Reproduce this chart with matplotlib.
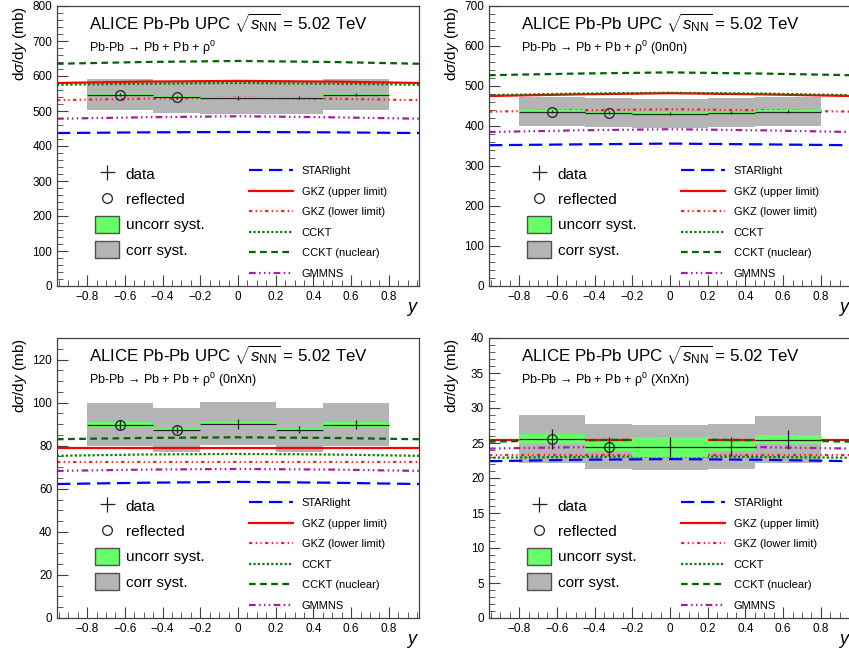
import numpy as np
import matplotlib.pyplot as plt
from matplotlib.lines import Line2D
from matplotlib.patches import Patch
from matplotlib.ticker import MultipleLocator

plt.rcParams['font.family'] = ['Liberation Sans', 'DejaVu Sans']
plt.rcParams['mathtext.fontset'] = 'custom'
plt.rcParams['mathtext.rm'] = 'Liberation Sans'
plt.rcParams['mathtext.it'] = 'Liberation Sans:italic'

# rapidity bins
bin_lo = [-0.8, -0.45, -0.2, 0.2, 0.45]
bin_hi = [-0.45, -0.2, 0.2, 0.45, 0.8]
y_pts = [-0.625, -0.325, 0.0, 0.325, 0.625]
reflected = [True, True, False, False, False]

# model curves sampled in y
y_model = [-0.96, -0.5, 0.0, 0.5, 0.96]

# --- coherent rho0, all classes
tot_val = [547, 539, 537, 538, 547]
tot_stat = [5, 5, 5, 5, 5]
tot_unc = [3, 3, 3, 3, 3]
tot_corr = [44, 46, 46, 46, 44]
tot_starlight = [437, 439, 440, 439, 437]
tot_gkz_up = [580, 584, 586, 584, 580]
tot_gkz_lo = [531, 535, 538, 535, 531]
tot_cckt = [575, 578, 580, 578, 575]
tot_cckt_nuc = [635, 640, 643, 640, 635]
tot_gmmns = [478, 482, 485, 482, 478]

# --- 0n0n
n00_val = [436, 433, 431, 433, 436]
n00_stat = [4, 4, 4, 4, 4]
n00_unc = [3, 3, 3, 3, 3]
n00_corr = [36, 36, 36, 36, 36]
n00_starlight = [352, 354, 356, 354, 352]
n00_gkz_up = [475, 479, 482, 479, 475]
n00_gkz_lo = [436, 439, 442, 439, 436]
n00_cckt = [477, 481, 483, 481, 477]
n00_cckt_nuc = [527, 531, 534, 531, 527]
n00_gmmns = [385, 389, 392, 389, 385]

# --- 0nXn
n0x_val = [89.8, 87.5, 90.1, 87.5, 89.8]
n0x_stat = [2.0, 1.8, 2.3, 1.8, 2.0]
n0x_unc = [1.0, 0.9, 1.1, 0.9, 1.0]
n0x_corr = [10.0, 10.2, 10.0, 10.2, 10.0]
n0x_starlight = [62.2, 62.8, 63.2, 62.8, 62.2]
n0x_gkz_up = [79.0, 79.0, 79.0, 79.0, 79.0]
n0x_gkz_lo = [72.5, 72.5, 72.5, 72.5, 72.5]
n0x_cckt = [75.3, 75.9, 76.2, 75.9, 75.3]
n0x_cckt_nuc = [83.0, 83.6, 83.9, 83.6, 83.0]
n0x_gmmns = [68.3, 68.9, 69.2, 68.9, 68.3]

# --- XnXn
nxx_val = [25.6, 24.5, 24.4, 24.5, 25.5]
nxx_stat = [1.4, 1.3, 1.4, 1.3, 1.4]
nxx_unc = [0.7, 0.7, 1.45, 0.7, 0.7]
nxx_corr = [3.4, 3.2, 3.2, 3.2, 3.4]
nxx_starlight = [22.4, 22.6, 22.7, 22.6, 22.4]
nxx_gkz_up = [25.4, 25.4, 25.4, 25.4, 25.4]
nxx_gkz_lo = [23.3, 23.3, 23.3, 23.3, 23.3]
nxx_cckt = [22.9, 23.0, 23.1, 23.0, 22.9]
nxx_cckt_nuc = [25.2, 25.4, 25.5, 25.4, 25.2]
nxx_gmmns = [24.2, 24.4, 24.5, 24.4, 24.2]

panels = [
    dict(sub='', ymax=800, major=100, minor=20,
         val=tot_val, stat=tot_stat, unc=tot_unc, corr=tot_corr,
         models=[tot_starlight, tot_gkz_up, tot_gkz_lo, tot_cckt, tot_cckt_nuc, tot_gmmns]),
    dict(sub=' (0n0n)', ymax=700, major=100, minor=20,
         val=n00_val, stat=n00_stat, unc=n00_unc, corr=n00_corr,
         models=[n00_starlight, n00_gkz_up, n00_gkz_lo, n00_cckt, n00_cckt_nuc, n00_gmmns]),
    dict(sub=' (0nXn)', ymax=130, major=20, minor=5,
         val=n0x_val, stat=n0x_stat, unc=n0x_unc, corr=n0x_corr,
         models=[n0x_starlight, n0x_gkz_up, n0x_gkz_lo, n0x_cckt, n0x_cckt_nuc, n0x_gmmns]),
    dict(sub=' (XnXn)', ymax=40, major=5, minor=1,
         val=nxx_val, stat=nxx_stat, unc=nxx_unc, corr=nxx_corr,
         models=[nxx_starlight, nxx_gkz_up, nxx_gkz_lo, nxx_cckt, nxx_cckt_nuc, nxx_gmmns]),
]

model_names = ['STARlight', 'GKZ (upper limit)', 'GKZ (lower limit)', 'CCKT',
               'CCKT (nuclear)', 'GMMNS']
model_styles = [
    dict(color='#0000ff', ls=(0, (6, 3))),
    dict(color='#ff0000', ls='-'),
    dict(color='#ff2020', ls=(0, (1.5, 1.5, 0.6, 1.5, 0.6, 1.5))),
    dict(color='#007f00', ls=(0, (1, 1))),
    dict(color='#006400', ls=(0, (3, 2))),
    dict(color='#a020a0', ls=(0, (3, 1.5, 0.7, 1.5, 0.7, 1.5, 0.7, 1.5))),
]

green = '#66ff66'
grey = '#b4b4b4'

fig = plt.figure(figsize=(8.49, 6.53), dpi=100)
W, H = 849, 653
ax_px = [(57, 6), (489, 6), (57, 338), (489, 338)]

for p, (x0, y0) in zip(panels, ax_px):
    ax = fig.add_axes([x0 / W, 1 - (y0 + 280) / H, 362 / W, 280 / H])
    ax.set_xlim(-0.96, 0.96)
    ax.set_ylim(0, p['ymax'])

    for lo, hi, v, c in zip(bin_lo, bin_hi, p['val'], p['corr']):
        ax.fill_between([lo, hi], v - c, v + c, color=grey, lw=0, zorder=1)
    for m, st in zip(p['models'], model_styles):
        ax.plot(y_model, m, lw=1.6, zorder=2, **st)
    for lo, hi, v, u in zip(bin_lo, bin_hi, p['val'], p['unc']):
        ax.fill_between([lo, hi], v - u, v + u, color=green, lw=0, zorder=3)
    xerr = [np.array(y_pts) - np.array(bin_lo), np.array(bin_hi) - np.array(y_pts)]
    ax.errorbar(y_pts, p['val'], xerr=xerr, yerr=p['stat'], fmt='none',
                ecolor='#202020', elinewidth=0.9, capsize=0, zorder=4)
    rx = [x for x, r in zip(y_pts, reflected) if r]
    rv = [v for v, r in zip(p['val'], reflected) if r]
    ax.plot(rx, rv, 'o', mfc='none', mec='#202020', ms=7, mew=0.9, zorder=5)

    ax.xaxis.set_minor_locator(MultipleLocator(0.05))
    ax.yaxis.set_major_locator(MultipleLocator(p['major']))
    ax.yaxis.set_minor_locator(MultipleLocator(p['minor']))
    ax.tick_params(which='both', direction='in', top=False, right=False,
                   labelsize=8.5, color='#404040')
    ax.tick_params(which='major', length=8)
    ax.tick_params(which='minor', length=4)
    ax.set_xticks(np.round(np.arange(-0.8, 0.81, 0.2), 1))
    ax.set_xticklabels(['\u22120.8', '\u22120.6', '\u22120.4', '\u22120.2', '0',
                        '0.2', '0.4', '0.6', '0.8'])
    for s in ax.spines.values():
        s.set_color('#404040')
        s.set_linewidth(0.9)

    ax.set_ylabel(r'd$\sigma$/d$y$ (mb)', loc='top', fontsize=11)
    ax.yaxis.set_label_coords(-0.077, 1.0)
    ax.set_xlabel(r'$y$', loc='right', fontsize=13, labelpad=-2)

    ax.text(0.088, 0.939, r'ALICE Pb-Pb UPC $\sqrt{s_{\mathrm{NN}}}$ = 5.02 TeV',
            transform=ax.transAxes, fontsize=12.2, va='center')
    ax.text(0.088, 0.85, 'Pb-Pb \u2192 Pb + Pb + \u03c1$^{0}$' + p['sub'],
            transform=ax.transAxes, fontsize=9, va='center')

    data_h = ax.errorbar([], [], xerr=[], yerr=[], fmt='none', ecolor='#202020',
                         elinewidth=0.9, capsize=2)
    refl_h = Line2D([], [], ls='none', marker='o', mfc='none', mec='#202020', ms=7, mew=0.9)
    unc_h = Patch(facecolor=green, edgecolor='#505050', lw=1)
    corr_h = Patch(facecolor=grey, edgecolor='#505050', lw=1)
    leg1 = ax.legend([data_h, refl_h, unc_h, corr_h],
                     ['data', 'reflected', 'uncorr syst.', 'corr syst.'],
                     loc='upper left', bbox_to_anchor=(0.105, 0.43), frameon=False,
                     fontsize=11, handlelength=1.6, handleheight=1.3,
                     handletextpad=0.4, labelspacing=0.56, borderpad=0, borderaxespad=0)
    ax.add_artist(leg1)
    mh = [Line2D([], [], lw=1.6, **st) for st in model_styles]
    ax.legend(mh, model_names, loc='upper left', bbox_to_anchor=(0.53, 0.428),
              frameon=False, fontsize=8, handlelength=4.0, handletextpad=0.75,
              labelspacing=0.95, borderpad=0, borderaxespad=0)

fig.savefig('out.png', dpi=100)
